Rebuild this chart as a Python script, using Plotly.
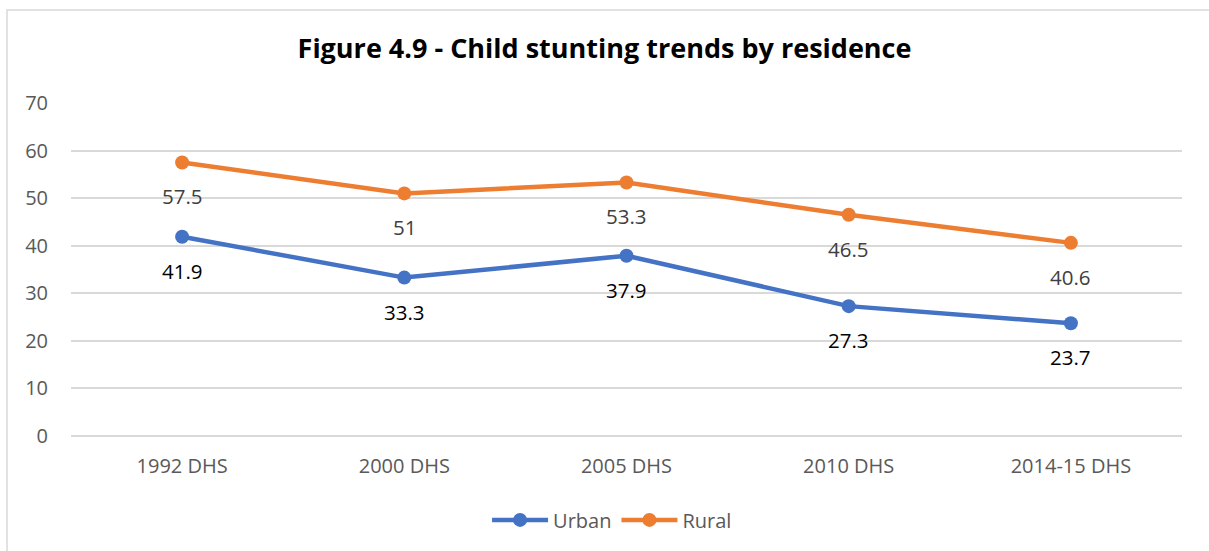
import plotly.graph_objects as go

categories = ["1992 DHS", "2000 DHS", "2005 DHS", "2010 DHS", "2014-15 DHS"]
urban = [41.9, 33.3, 37.9, 27.3, 23.7]
rural = [57.5, 51, 53.3, 46.5, 40.6]
urban_labels = ["41.9", "33.3", "37.9", "27.3", "23.7"]
rural_labels = ["57.5", "51", "53.3", "46.5", "40.6"]

BLUE = "#4472C4"
ORANGE = "#ED7D31"
FONT = "Open Sans"

fig = go.Figure()
fig.add_trace(go.Scatter(x=categories, y=urban, name="Urban", mode="lines+markers",
                         line=dict(color=BLUE, width=4.5), marker=dict(size=14, color=BLUE)))
fig.add_trace(go.Scatter(x=categories, y=rural, name="Rural", mode="lines+markers",
                         line=dict(color=ORANGE, width=4.5), marker=dict(size=14, color=ORANGE)))

annotations = []
for c, v, t in zip(categories, urban, urban_labels):
    annotations.append(dict(x=c, y=v, text=t, showarrow=False, yshift=-34,
                            font=dict(family=FONT, size=20.5, color="#000000")))
for c, v, t in zip(categories, rural, rural_labels):
    annotations.append(dict(x=c, y=v, text=t, showarrow=False, yshift=-34,
                            font=dict(family=FONT, size=20.5, color="#404040")))

fig.update_layout(
    width=1209, height=551,
    margin=dict(l=71, r=27, t=103, b=115),
    paper_bgcolor="white", plot_bgcolor="white",
    font=dict(family=FONT, size=20, color="#595959"),
    title=dict(text="<b>Figure 4.9 - Child stunting trends by residence</b>",
               x=0.5, xanchor="center", y=0.912, yanchor="middle",
               font=dict(family=FONT, size=27, color="#000000")),
    xaxis=dict(range=[-0.5, 4.5], showgrid=False, showline=False, zeroline=False,
               ticks="", tickfont=dict(size=20, color="#595959"), ticklabelstandoff=16),
    yaxis=dict(range=[0, 70], dtick=10, showgrid=True, gridcolor="#D9D9D9", gridwidth=1.5,
               zeroline=True, zerolinecolor="#D9D9D9", zerolinewidth=1.5,
               showline=False, ticks="", ticklabelstandoff=22,
               tickfont=dict(size=20, color="#595959")),
    legend=dict(orientation="h", x=0.487, xanchor="center", y=-0.252, yanchor="middle",
                font=dict(size=20, color="#595959"), itemwidth=56, traceorder="normal"),
    annotations=annotations,
    shapes=[dict(type="rect", xref="paper", yref="paper", x0=-0.0576, x1=1.03,
                 y0=-0.4, y1=1.279, line=dict(color="#D9D9D9", width=1.5),
                 fillcolor="rgba(0,0,0,0)", layer="below")],
)

fig.write_html("out.html")
